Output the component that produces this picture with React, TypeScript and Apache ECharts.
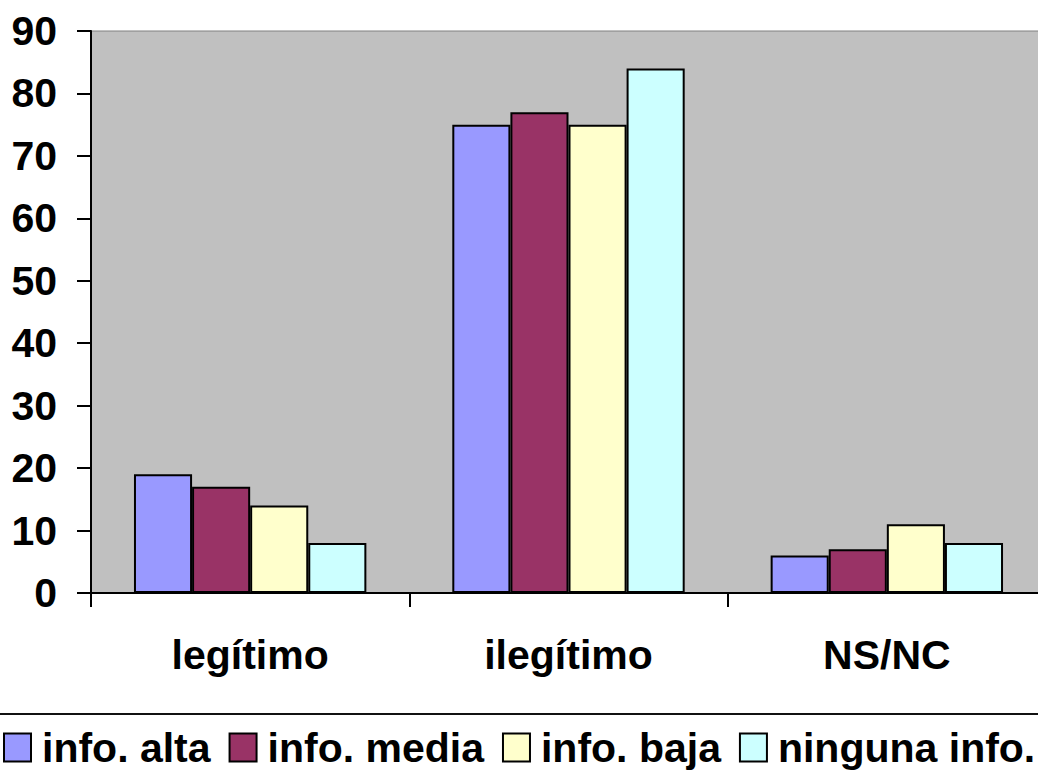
import React, { useEffect, useRef } from "react";
import * as echarts from "echarts";

const categories = ["legítimo", "ilegítimo", "NS/NC"];
const seriesNames = ["info. alta", "info. media", "info. baja", "ninguna info."];
const infoAlta = [19, 75, 6];
const infoMedia = [17, 77, 7];
const infoBaja = [14, 75, 11];
const ningunaInfo = [8, 84, 8];
const colors = ["#9999FF", "#993366", "#FFFFCC", "#CCFFFF"];
const yTicks = { min: 0, max: 90, interval: 10 };

const FONT = "'Liberation Sans', Arial, sans-serif";

export default function App() {
  const ref = useRef<HTMLDivElement>(null);
  useEffect(() => {
    if (!ref.current) return;
    const chart = echarts.init(ref.current, null, { renderer: "svg" });
    const data = [infoAlta, infoMedia, infoBaja, ningunaInfo];
    chart.setOption({
      animation: false,
      backgroundColor: "#ffffff",
      grid: {
        left: 91,
        top: 31,
        width: 955,
        height: 562,
        outerBoundsMode: "none",
        containLabel: false,
        show: true,
        backgroundColor: "#C0C0C0",
        borderColor: "#808080",
        borderWidth: 1,
      },
      legend: {
        left: 3,
        top: 727,
        padding: 0,
        itemWidth: 27,
        itemHeight: 28,
        itemGap: 18,
        icon: "rect",
        itemStyle: { borderColor: "#000", borderWidth: 2 },
        textStyle: {
          fontFamily: FONT,
          fontWeight: "bold",
          fontSize: 41,
          color: "#000",
          padding: [0, 0, 0, 6],
        },
        data: seriesNames,
      },
      xAxis: {
        type: "category",
        data: categories,
        axisLine: { lineStyle: { color: "#000", width: 2 } },
        axisTick: { show: true, length: 14, lineStyle: { color: "#000", width: 2 } },
        axisLabel: {
          margin: 41,
          fontFamily: FONT,
          fontWeight: "bold",
          fontSize: 41,
          color: "#000",
        },
        splitLine: { show: false },
      },
      yAxis: {
        type: "value",
        min: yTicks.min,
        max: yTicks.max,
        interval: yTicks.interval,
        axisLine: { show: true, lineStyle: { color: "#000", width: 2 } },
        axisTick: { show: true, length: 14, lineStyle: { color: "#000", width: 2 } },
        axisLabel: {
          margin: 34,
          fontFamily: FONT,
          fontWeight: "bold",
          fontSize: 41,
          color: "#000",
        },
        splitLine: { show: false },
      },
      graphic: [
        {
          type: "line",
          shape: { x1: 0, y1: 714, x2: 1038, y2: 714 },
          style: { stroke: "#111", lineWidth: 2 },
        },
      ],
      series: seriesNames.map((name, i) => ({
        name,
        type: "bar",
        data: data[i],
        barGap: "0%",
        barCategoryGap: "27%",
        itemStyle: { color: colors[i], borderColor: "#000", borderWidth: 2 },
      })),
    });
    return () => chart.dispose();
  }, []);
  return (
    <div
      ref={ref}
      style={{ position: "fixed", left: 0, top: 0, width: 1038, height: 771 }}
    />
  );
}
